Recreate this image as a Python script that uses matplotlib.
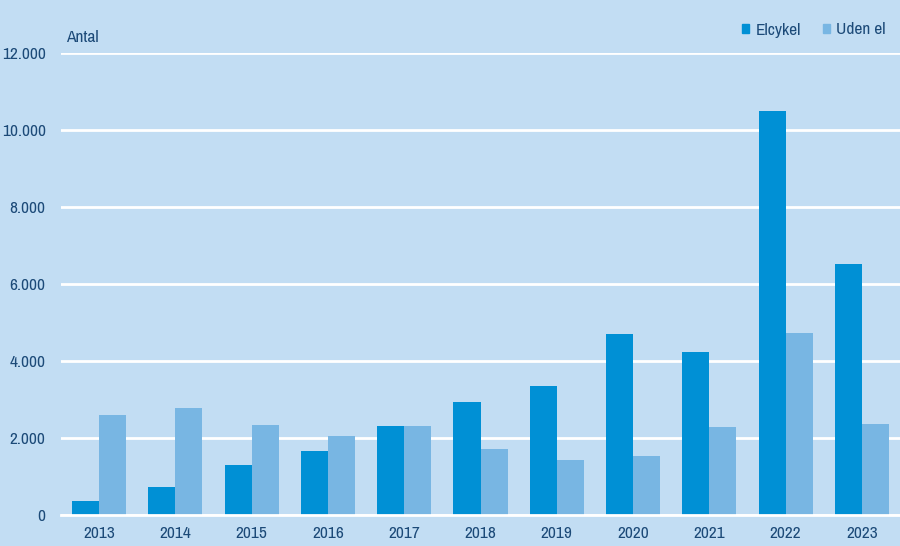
import matplotlib
matplotlib.use("Agg")
import matplotlib.pyplot as plt
from matplotlib import font_manager
from matplotlib.ticker import FuncFormatter, MultipleLocator
from matplotlib.patches import Patch
import numpy as np

# ---- data ----
years = ["2013", "2014", "2015", "2016", "2017", "2018", "2019", "2020", "2021", "2022", "2023"]
elcykel = [360, 730, 1300, 1660, 2310, 2940, 3350, 4700, 4230, 10490, 6520]
uden_el = [2600, 2780, 2340, 2050, 2310, 1710, 1430, 1530, 2290, 4730, 2360]

# ---- style ----
bg = "#c2ddf3"
c_el = "#0090d5"
c_uden = "#78b6e3"
txt = "#1c4a78"

# a narrow sans if there is one, else Liberation Sans
names = sorted({f.name for f in font_manager.fontManager.ttflist})
narrow = [n for n in names if "Narrow" in n or "Condensed" in n]
if narrow:
    plt.rcParams["font.family"] = [narrow[0], "DejaVu Sans"]
    fs = 12.5
else:
    plt.rcParams["font.family"] = ["Liberation Sans", "DejaVu Sans"]
    fs = 10.5

fig = plt.figure(figsize=(9, 5.46), dpi=100, facecolor=bg)
ax = fig.add_axes([61 / 900, 31 / 546, 839 / 900, 462 / 546], facecolor=bg)

x = np.arange(len(years))
w = 0.355
ax.bar(x - w / 2, elcykel, width=w, color=c_el, zorder=3)
ax.bar(x + w / 2, uden_el, width=w, color=c_uden, zorder=3)

ax.set_xlim(-0.5, len(years) - 0.5)
ax.set_ylim(0, 12000)
ax.yaxis.set_major_locator(MultipleLocator(2000))
ax.yaxis.set_major_formatter(FuncFormatter(lambda v, p: f"{int(v):,}".replace(",", ".")))
ax.grid(axis="y", color="white", linewidth=2, zorder=1)
ax.set_axisbelow(True)
ax.set_xticks(x)
ax.set_xticklabels(years)
for s in ax.spines.values():
    s.set_visible(False)
ax.tick_params(axis="both", length=0, labelsize=fs, colors=txt)
ax.tick_params(axis="y", pad=11)
ax.tick_params(axis="x", pad=8)
ax.axhline(0, color="white", linewidth=2, zorder=4, clip_on=False)

fig.text(66 / 900, 1 - 37 / 546, "Antal", color=txt, fontsize=fs, va="center", ha="left")

handles = [Patch(color=c_el, label="Elcykel"), Patch(color=c_uden, label="Uden el")]
leg = fig.legend(handles=handles, loc="center right", bbox_to_anchor=(886 / 900, 1 - 30 / 546),
                 ncol=2, frameon=False, fontsize=fs, handlelength=0.45, handleheight=0.45,
                 handletextpad=0.35, columnspacing=1.25, borderaxespad=0, borderpad=0)
for t in leg.get_texts():
    t.set_color(txt)

fig.savefig("out.png", dpi=100, facecolor=bg)
